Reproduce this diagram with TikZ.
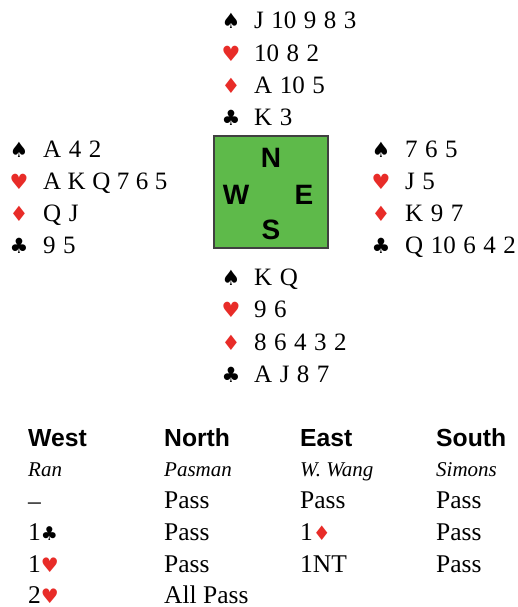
\documentclass[tikz,border=0pt]{standalone}
\usepackage{fontspec}
\setmainfont{Liberation Serif}
\newfontfamily\hdrfont{Liberation Sans}
\newfontfamily\symfont{DejaVu Sans}
\definecolor{suitred}{RGB}{232,44,40}
\definecolor{boxgreen}{RGB}{94,186,74}
\newcommand\blk[1]{{\symfont\fontsize{21}{21}\selectfont #1}}
\newcommand\rd[1]{{\symfont\fontsize{21}{21}\selectfont\color{suitred}#1}}
\newcommand\tblk[1]{{\symfont\fontsize{19}{19}\selectfont #1}}
\newcommand\trd[1]{{\symfont\fontsize{20}{20}\selectfont\color{suitred}#1}}
\newcommand\cardfnt{\fontsize{25}{25}\selectfont\spaceskip=0.3em\relax}
\newcommand\tightfnt{\fontsize{25}{25}\selectfont\spaceskip=0.26em\relax}
\begin{document}
\begin{tikzpicture}[x=1pt,y=-1pt,
  suit/.style={anchor=base,inner sep=0pt},
  card/.style={anchor=base west,inner sep=0pt,font=\cardfnt},
  tight/.style={font=\tightfnt},
  seat/.style={inner sep=0pt,font=\hdrfont\bfseries\fontsize{28}{28}\selectfont},
  head/.style={anchor=base west,inner sep=0pt,font=\hdrfont\bfseries\fontsize{24.7}{25}\selectfont},
  pname/.style={anchor=base west,inner sep=0pt,font=\itshape\fontsize{21}{21}\selectfont},
  bid/.style={anchor=base west,inner sep=0pt,font=\fontsize{25.5}{26}\selectfont}]
\useasboundingbox (0,0) rectangle (517,607);
\fill[white] (0,0) rectangle (517,607);
% North
\node[suit] (ns) at (231,29) {\blk{♠}};
\node[card] (nsc) at (254,29) {J 10 9 8 3};
\node[suit] (nh) at (231,61.1) {\rd{♥}};
\node[card] (nhc) at (254,61.1) {10 8 2};
\node[suit] (nd) at (231,93.2) {\rd{♦}};
\node[card] (ndc) at (254,93.2) {A 10 5};
\node[suit] (nc) at (231,125.3) {\blk{♣}};
\node[card] (ncc) at (254,125.3) {K 3};
% West
\node[suit] (ws) at (19,157.4) {\blk{♠}};
\node[card] (wsc) at (43,157.4) {A 4 2};
\node[suit] (wh) at (19,189.5) {\rd{♥}};
\node[card,tight] (whc) at (43,189.5) {A K Q 7 6 5};
\node[suit] (wd) at (19,221.6) {\rd{♦}};
\node[card] (wdc) at (43,221.6) {Q J};
\node[suit] (wc) at (19,253.7) {\blk{♣}};
\node[card] (wcc) at (43,253.7) {9 5};
% East
\node[suit] (es) at (381,157.4) {\blk{♠}};
\node[card] (esc) at (405,157.4) {7 6 5};
\node[suit] (eh) at (381,189.5) {\rd{♥}};
\node[card] (ehc) at (405,189.5) {J 5};
\node[suit] (ed) at (381,221.6) {\rd{♦}};
\node[card] (edc) at (405,221.6) {K 9 7};
\node[suit] (ec) at (381,253.7) {\blk{♣}};
\node[card] (ecc) at (405,253.7) {Q 10 6 4 2};
% South
\node[suit] (ss) at (231,285.8) {\blk{♠}};
\node[card] (ssc) at (254,285.8) {K Q};
\node[suit] (sh) at (231,317.9) {\rd{♥}};
\node[card] (shc) at (254,317.9) {9 6};
\node[suit] (sd) at (231,350) {\rd{♦}};
\node[card] (sdc) at (254,350) {8 6 4 3 2};
\node[suit] (sc) at (231,382.1) {\blk{♣}};
\node[card] (scc) at (254,382.1) {A J 8 7};
% compass
\node[draw=black!75,line width=1.2pt,fill=boxgreen,minimum width=114pt,minimum height=112pt,inner sep=0pt] (box) at (271,192) {};
\node[seat] (bn) at (271,158) {N};
\node[seat] (bw) at (236,195) {W};
\node[seat] (be) at (304,195) {E};
\node[seat] (bs) at (271,230) {S};
% auction
\node[head] (hw) at (28,446) {West};
\node[head] (hn) at (164,446) {North};
\node[head] (he) at (300,446) {East};
\node[head] (hs) at (436,446) {South};
\node[pname] (pw) at (28,476) {Ran};
\node[pname] (pn) at (164,476) {Pasman};
\node[pname] (pe) at (300,476) {W. Wang};
\node[pname] (ps) at (436,476) {Simons};
\node[bid] (b11) at (28,509) {–};
\node[bid] (b12) at (164,508) {Pass};
\node[bid] (b13) at (300,508) {Pass};
\node[bid] (b14) at (436,508) {Pass};
\node[bid] (b21) at (28,540) {1\tblk{♣}};
\node[bid] (b22) at (164,540) {Pass};
\node[bid] (b23) at (300,540) {1\trd{♦}};
\node[bid] (b24) at (436,540) {Pass};
\node[bid] (b31) at (28,572) {1\trd{♥}};
\node[bid] (b32) at (164,572) {Pass};
\node[bid] (b33) at (300,572) {1NT};
\node[bid] (b34) at (436,572) {Pass};
\node[bid] (b41) at (28,603.5) {2\trd{♥}};
\node[bid] (b42) at (164,603.5) {All Pass};
\end{tikzpicture}
\end{document}
